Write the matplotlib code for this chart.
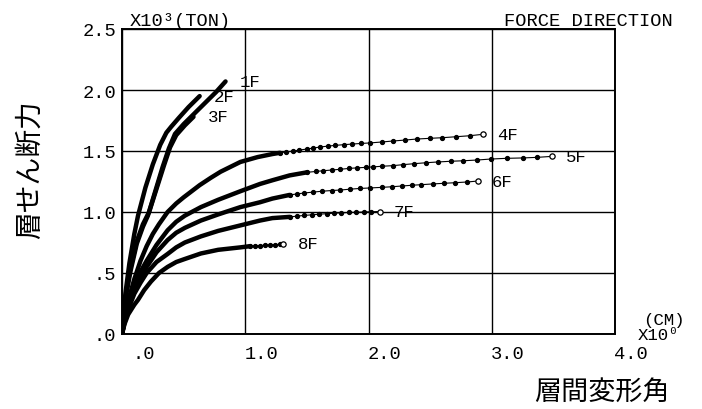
import numpy as np
import matplotlib
matplotlib.use("Agg")
from matplotlib import pyplot as plt
from matplotlib.transforms import ScaledTranslation

MONO = ['Liberation Mono', 'DejaVu Sans Mono']
JP = ['Noto Sans CJK JP', 'DejaVu Sans']

# story shear (x10^3 ton) vs. inter-story drift (cm)
f1_x = [0, 0.01, 0.03, 0.07, 0.12, 0.17, 0.21, 0.27, 0.33, 0.38, 0.43, 0.50, 0.58, 0.67, 0.76, 0.84]
f1_y = [0, 0.13, 0.30, 0.52, 0.74, 0.88, 0.97, 1.17, 1.37, 1.52, 1.64, 1.72, 1.80, 1.89, 1.98, 2.07]

f2_x = [0, 0.01, 0.03, 0.06, 0.10, 0.13, 0.19, 0.25, 0.31, 0.36, 0.40, 0.46, 0.54, 0.63]
f2_y = [0, 0.15, 0.35, 0.58, 0.82, 0.97, 1.20, 1.39, 1.55, 1.65, 1.70, 1.77, 1.86, 1.95]

f3_x = [0, 0.01, 0.03, 0.07, 0.12, 0.17, 0.22, 0.28, 0.34, 0.39, 0.44, 0.51, 0.58]
f3_y = [0, 0.14, 0.32, 0.55, 0.76, 0.90, 1.00, 1.19, 1.38, 1.53, 1.63, 1.71, 1.78]

f4_x = [0, 0.02, 0.05, 0.10, 0.15, 0.20, 0.25, 0.30, 0.37, 0.44, 0.50, 0.63, 0.72, 0.80, 0.96, 1.10, 1.22,
        1.28, 1.33, 1.39, 1.44, 1.50, 1.55, 1.61, 1.67, 1.73, 1.80, 1.87, 1.94, 2.01,
        2.11, 2.20, 2.30, 2.39, 2.50, 2.60, 2.71, 2.82, 2.93]
f4_y = [0, 0.12, 0.27, 0.45, 0.60, 0.72, 0.82, 0.90, 1.00, 1.07, 1.12, 1.22, 1.28, 1.33, 1.41, 1.45, 1.475,
        1.485, 1.492, 1.500, 1.508, 1.516, 1.524, 1.533, 1.540, 1.546, 1.552, 1.557, 1.562, 1.566,
        1.574, 1.582, 1.590, 1.598, 1.604, 1.609, 1.617, 1.625, 1.637]

f5_x = [0, 0.02, 0.05, 0.10, 0.15, 0.20, 0.28, 0.37, 0.44, 0.51, 0.64, 0.78, 0.96, 1.12, 1.22, 1.36,
        1.50, 1.57, 1.63, 1.70, 1.77, 1.84, 1.91, 1.98, 2.04, 2.11, 2.20, 2.28, 2.37,
        2.47, 2.56, 2.67, 2.77, 2.88, 2.99, 3.12, 3.25, 3.37, 3.49]
f5_y = [0, 0.11, 0.24, 0.40, 0.51, 0.60, 0.73, 0.85, 0.92, 0.97, 1.04, 1.10, 1.17, 1.23, 1.26, 1.30,
        1.325, 1.332, 1.338, 1.344, 1.350, 1.357, 1.362, 1.366, 1.370, 1.375, 1.380, 1.388, 1.396,
        1.404, 1.410, 1.416, 1.420, 1.426, 1.434, 1.440, 1.443, 1.448, 1.456]

f6_x = [0, 0.02, 0.05, 0.10, 0.15, 0.20, 0.28, 0.37, 0.44, 0.51, 0.64, 0.78, 0.96, 1.12, 1.22,
        1.36, 1.42, 1.48, 1.55, 1.62, 1.70, 1.77, 1.85, 1.93, 2.01, 2.11, 2.19,
        2.27, 2.35, 2.43, 2.52, 2.61, 2.70, 2.80, 2.89]
f6_y = [0, 0.10, 0.22, 0.36, 0.47, 0.55, 0.67, 0.77, 0.83, 0.87, 0.93, 0.98, 1.04, 1.08, 1.11,
        1.140, 1.148, 1.156, 1.163, 1.170, 1.176, 1.180, 1.187, 1.193, 1.197, 1.202, 1.207,
        1.213, 1.219, 1.224, 1.230, 1.235, 1.240, 1.246, 1.254]

f7_x = [0, 0.02, 0.05, 0.10, 0.15, 0.20, 0.28, 0.37, 0.44, 0.51, 0.64, 0.78, 0.96, 1.12, 1.22,
        1.36, 1.42, 1.48, 1.54, 1.60, 1.66, 1.72, 1.78, 1.84, 1.90, 1.96, 2.02, 2.09]
f7_y = [0, 0.09, 0.20, 0.33, 0.42, 0.50, 0.59, 0.656, 0.71, 0.75, 0.80, 0.845, 0.89, 0.93, 0.95,
        0.960, 0.966, 0.972, 0.977, 0.982, 0.986, 0.990, 0.993, 0.996, 0.998, 1.000, 1.002, 1.004]

f8_x = [0, 0.02, 0.05, 0.10, 0.13, 0.18, 0.235, 0.30, 0.37, 0.44, 0.51, 0.64, 0.78, 0.96,
        1.04, 1.08, 1.12, 1.16, 1.20, 1.24, 1.28, 1.31]
f8_y = [0, 0.08, 0.16, 0.24, 0.28, 0.36, 0.43, 0.50, 0.55, 0.59, 0.615, 0.66, 0.69, 0.71,
        0.720, 0.722, 0.725, 0.728, 0.730, 0.732, 0.735, 0.738]

floors = ['1F', '2F', '3F', '4F', '5F', '6F', '7F', '8F']
curves = [(f1_x, f1_y), (f2_x, f2_y), (f3_x, f3_y), (f4_x, f4_y),
          (f5_x, f5_y), (f6_x, f6_y), (f7_x, f7_y), (f8_x, f8_y)]

x_ticks = [0, 1, 2, 3, 4]
x_labels = ['.0', '1.0', '2.0', '3.0', '4.0']
y_ticks = [0, 0.5, 1.0, 1.5, 2.0, 2.5]
y_labels = ['.0', '.5', '1.0', '1.5', '2.0', '2.5']

# x from which the record is drawn as separate dots (None = solid all the way)
dots_from = {'1F': None, '2F': None, '3F': None, '4F': 1.28, '5F': 1.50,
             '6F': 1.36, '7F': 1.36, '8F': 1.04}

fig = plt.figure(figsize=(7.02, 4.10), dpi=100)
ax = fig.add_axes([122 / 702, 75 / 410, 493 / 702, 305 / 410])

for name, (xs, ys) in zip(floors, curves):
    xs = np.asarray(xs)
    ys = np.asarray(ys)
    split = dots_from[name]
    if split is None:
        ax.plot(xs, ys, color='black', lw=3.2, solid_capstyle='round', solid_joinstyle='round')
    else:
        solid = xs <= split
        ax.plot(xs[solid], ys[solid], color='black', lw=3.2, solid_capstyle='round',
                solid_joinstyle='round')
        dot = xs >= split
        ax.plot(xs[dot], ys[dot], color='black', lw=0.8, marker='o', ms=2.8)
        ax.plot(xs[-1], ys[-1], marker='o', ms=3.8, mfc='white', mec='black', mew=0.9)
    ax.annotate(name, (xs[-1], ys[-1]), xytext=(14, 0), textcoords='offset pixels',
                ha='left', va='center', fontsize=12.5, family=MONO)

ax.set_xlim(0, 4)
ax.set_ylim(0, 2.5)
ax.set_xticks(x_ticks)
ax.set_xticklabels(x_labels, family=MONO, fontsize=13.5)
ax.set_yticks(y_ticks)
ax.set_yticklabels(y_labels, family=MONO, fontsize=13.5)
ax.tick_params(length=0)
ax.tick_params(axis='x', pad=8)
ax.tick_params(axis='y', pad=4)
for lbl in ax.get_xticklabels():
    lbl.set_ha('right')
    lbl.set_transform(lbl.get_transform() + ScaledTranslation(0.33, 0, fig.dpi_scale_trans))
ax.grid(True, color='black', lw=1.0)
for sp in ax.spines.values():
    sp.set_linewidth(1.4)

fig.text(130 / 702, 1 - 21 / 410, 'X10³(TON)', family=MONO, fontsize=13.5,
         ha='left', va='center')
fig.text(673 / 702, 1 - 21 / 410, 'FORCE DIRECTION', family=MONO, fontsize=13.5,
         ha='right', va='center')
fig.text(685 / 702, 1 - 320 / 410, '(CM)', family=MONO, fontsize=12.5,
         ha='right', va='center')
fig.text(679 / 702, 1 - 336 / 410, 'X10⁰', family=MONO, fontsize=12.5,
         ha='right', va='center')
fig.text(30 / 702, 1 - 170 / 410, '層せん断力', family=JP, fontsize=20,
         rotation=90, ha='center', va='center')
fig.text(602 / 702, 1 - 392 / 410, '層間変形角', family=JP, fontsize=19.5,
         ha='center', va='center')

fig.savefig('out.png', dpi=100)
